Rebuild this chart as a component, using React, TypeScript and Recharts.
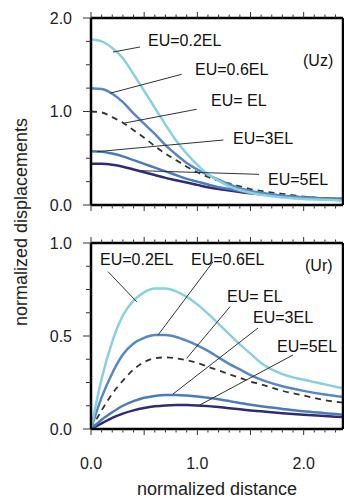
import { Line, LineChart, ReferenceDot, ReferenceLine, XAxis, YAxis } from "recharts";

const FONT = "'Liberation Sans', Arial, Helvetica, sans-serif";

// normalized distance (shared x)
const distance = [0, 0.1, 0.2, 0.3, 0.4, 0.5, 0.6, 0.7, 0.8, 0.9, 1.0, 1.1, 1.2, 1.3, 1.4, 1.5, 1.6, 1.8, 2.0, 2.2, 2.4];

// vertical displacement (Uz)
const uz02 = [1.77, 1.75, 1.68, 1.57, 1.4, 1.22, 1.04, 0.86, 0.69, 0.55, 0.43, 0.33, 0.26, 0.2, 0.16, 0.13, 0.11, 0.08, 0.065, 0.055, 0.045];
const uz06 = [1.25, 1.24, 1.19, 1.1, 0.98, 0.87, 0.76, 0.64, 0.54, 0.45, 0.38, 0.32, 0.27, 0.22, 0.18, 0.15, 0.13, 0.1, 0.08, 0.065, 0.055];
const uz1 = [1.0, 0.99, 0.94, 0.88, 0.8, 0.72, 0.63, 0.55, 0.48, 0.41, 0.35, 0.3, 0.26, 0.23, 0.2, 0.17, 0.15, 0.12, 0.09, 0.07, 0.06];
const uz3 = [0.575, 0.57, 0.55, 0.52, 0.48, 0.44, 0.4, 0.36, 0.32, 0.28, 0.25, 0.22, 0.19, 0.17, 0.15, 0.13, 0.12, 0.1, 0.08, 0.07, 0.06];
const uz5 = [0.44, 0.44, 0.43, 0.41, 0.38, 0.35, 0.32, 0.29, 0.265, 0.24, 0.215, 0.19, 0.17, 0.155, 0.14, 0.125, 0.115, 0.095, 0.08, 0.07, 0.065];

// radial displacement (Ur)
const ur02 = [0, 0.27, 0.47, 0.61, 0.69, 0.735, 0.755, 0.755, 0.74, 0.71, 0.67, 0.62, 0.565, 0.51, 0.455, 0.405, 0.355, 0.295, 0.265, 0.24, 0.215];
const ur06 = [0, 0.17, 0.3, 0.4, 0.46, 0.49, 0.505, 0.505, 0.495, 0.475, 0.45, 0.42, 0.385, 0.35, 0.32, 0.29, 0.265, 0.23, 0.205, 0.185, 0.17];
const ur1 = [0, 0.1, 0.19, 0.26, 0.32, 0.36, 0.38, 0.385, 0.38, 0.37, 0.355, 0.335, 0.315, 0.295, 0.275, 0.255, 0.24, 0.205, 0.18, 0.155, 0.14];
const ur3 = [0, 0.05, 0.09, 0.125, 0.15, 0.168, 0.178, 0.183, 0.183, 0.18, 0.175, 0.168, 0.16, 0.15, 0.14, 0.13, 0.122, 0.108, 0.095, 0.085, 0.075];
const ur5 = [0, 0.03, 0.06, 0.083, 0.1, 0.113, 0.122, 0.127, 0.129, 0.129, 0.127, 0.123, 0.118, 0.112, 0.106, 0.1, 0.095, 0.085, 0.077, 0.07, 0.063];

const xTicks = [0, 0.1, 0.2, 0.3, 0.4, 0.5, 0.6, 0.7, 0.8, 0.9, 1, 1.1, 1.2, 1.3, 1.4, 1.5, 1.6, 1.7, 1.8, 1.9, 2, 2.1, 2.2, 2.3];
const xLabels = [0, 1, 2];
const uzTicks = [0, 0.25, 0.5, 0.75, 1, 1.25, 1.5, 1.75, 2];
const uzLabels = [0, 1, 2];
const urTicks = [0, 0.125, 0.25, 0.375, 0.5, 0.625, 0.75, 0.875, 1];
const urLabels = [0, 0.5, 1];

const uzData = distance.map((x, i) => ({ x, a: uz02[i], b: uz06[i], c: uz1[i], d: uz3[i], e: uz5[i] }));
const urData = distance.map((x, i) => ({ x, a: ur02[i], b: ur06[i], c: ur1[i], d: ur3[i], e: ur5[i] }));

// label text positions and leader lines, in data units
const uzNotes = [
	{ text: "EU=0.2EL", x: 0.536, y: 1.7, from: [0.207, 1.636], to: [0.461, 1.69] },
	{ text: "EU=0.6EL", x: 0.978, y: 1.39, from: [0.179, 1.195], to: [0.853, 1.398] },
	{ text: "EU= EL", x: 1.129, y: 1.059, from: [0.304, 0.874], to: [0.994, 1.024] },
	{ text: "EU=3EL", x: 1.336, y: 0.652, from: [0.054, 0.57], to: [1.245, 0.695] },
	{ text: "EU=5EL", x: 1.665, y: 0.214, from: [0.461, 0.367], to: [1.58, 0.328] },
];
const urNotes = [
	{ text: "EU=0.2EL", x: 0.085, y: 0.882, from: [0.43, 0.684], to: [0.16, 0.846] },
	{ text: "EU=0.6EL", x: 0.941, y: 0.882, from: [0.63, 0.505], to: [1.148, 0.899] },
	{ text: "EU= EL", x: 1.279, y: 0.683, from: [0.9, 0.38], to: [1.308, 0.658] },
	{ text: "EU=3EL", x: 1.524, y: 0.57, from: [0.771, 0.188], to: [1.571, 0.543] },
	{ text: "EU=5EL", x: 1.75, y: 0.414, from: [1.007, 0.124], to: [1.9, 0.398] },
];

const near = (list: number[], v: number) => list.some((l) => Math.abs(l - v) < 1e-6);

function XTick(props: any) {
	const { x, y, payload, up, labels } = props;
	const v = payload.value;
	const major = Math.abs(v * 2 - Math.round(v * 2)) < 1e-6;
	const len = major ? 6 : 3.5;
	return (
		<g>
			<line x1={x} y1={y} x2={x} y2={up ? y - len : y + len} stroke="#333" strokeWidth={1} />
			{labels && near(labels, v) && (
				<text x={x} y={y + 40} textAnchor="middle" fontSize={16} fontFamily={FONT} fill="#222">
					{v.toFixed(1)}
				</text>
			)}
		</g>
	);
}

function YTick(props: any) {
	const { x, y, payload, labels } = props;
	const v = payload.value;
	const major = near(labels, v);
	return (
		<g>
			<line x1={x} y1={y} x2={x - (major ? 8 : 5)} y2={y} stroke="#333" strokeWidth={1} />
			{major && (
				<text x={x - 19} y={y} dy="0.36em" textAnchor="end" fontSize={16} fontFamily={FONT} fill="#222">
					{v.toFixed(1)}
				</text>
			)}
		</g>
	);
}

const frame = { stroke: "#000", strokeWidth: 2.5 };

function Panel(props: any) {
	const { data, height, bottom, yMax, yTicks, yLabels, notes, tag, tagX, tagY, showX } = props;
	return (
		<LineChart width={344} height={height} data={data} margin={{ top: 17, right: 0, bottom: bottom - 1, left: 90 }}>
			<XAxis
				dataKey="x"
				type="number"
				domain={[0, 2.37]}
				allowDataOverflow
				ticks={xTicks}
				interval={0}
				height={1}
				tickSize={0}
				tickMargin={0}
				axisLine={frame}
				tick={(p: any) => <XTick {...p} up={false} labels={showX ? xLabels : null} />}
				label={
					showX
						? {
								content: (p: any) => {
									const vb = p.viewBox;
									return (
										<text x={vb.x + vb.width / 2} y={vb.y + 66} textAnchor="middle" fontSize={18} fontFamily={FONT} fill="#222">
											normalized distance
										</text>
									);
								},
							}
						: undefined
				}
			/>
			<XAxis
				xAxisId="top"
				orientation="top"
				dataKey="x"
				type="number"
				domain={[0, 2.37]}
				allowDataOverflow
				ticks={xTicks}
				interval={0}
				height={1}
				tickSize={0}
				tickMargin={0}
				axisLine={frame}
				tick={(p: any) => <XTick {...p} up={true} labels={null} />}
			/>
			<YAxis
				type="number"
				domain={[0, yMax]}
				allowDataOverflow
				ticks={yTicks}
				interval={0}
				width={1}
				tickSize={0}
				tickMargin={0}
				axisLine={frame}
				tick={(p: any) => <YTick {...p} labels={yLabels} />}
			/>
			<YAxis yAxisId="right" orientation="right" type="number" domain={[0, yMax]} width={1} tick={false} tickLine={false} axisLine={frame} />
			<Line dataKey="c" type="monotone" stroke="#333" strokeWidth={1.8} strokeDasharray="6 5" dot={false} isAnimationActive={false} />
			<Line dataKey="e" type="monotone" stroke="#2f2b76" strokeWidth={2.5} dot={false} isAnimationActive={false} />
			<Line dataKey="d" type="monotone" stroke="#4a7bba" strokeWidth={2.5} dot={false} isAnimationActive={false} />
			<Line dataKey="b" type="monotone" stroke="#5688c3" strokeWidth={2.5} dot={false} isAnimationActive={false} />
			<Line dataKey="a" type="monotone" stroke="#88d0e2" strokeWidth={2.5} dot={false} isAnimationActive={false} />
			{notes.map((n: any) => (
				<ReferenceLine
					key={"l" + n.text}
					segment={[
						{ x: n.from[0], y: n.from[1] },
						{ x: n.to[0], y: n.to[1] },
					]}
					stroke="#333"
					strokeWidth={1}
				/>
			))}
			{notes.map((n: any) => (
				<ReferenceDot
					key={"t" + n.text}
					x={n.x}
					y={n.y}
					r={0}
					shape={(p: any) => (
						<text x={p.cx} y={p.cy} fontSize={16} fontFamily={FONT} fill="#111">
							{n.text}
						</text>
					)}
				/>
			))}
			<ReferenceDot
				x={tagX}
				y={tagY}
				r={0}
				shape={(p: any) => (
					<text x={p.cx} y={p.cy} fontSize={16} fontFamily={FONT} fill="#111">
						{tag}
					</text>
				)}
			/>
		</LineChart>
	);
}

export default function App() {
	return (
		<div style={{ position: "absolute", left: 0, top: 0, width: 344, height: 498, background: "#fff" }}>
			<div style={{ position: "absolute", left: 0, top: 0 }}>
				<Panel data={uzData} height={225} bottom={20} yMax={2} yTicks={uzTicks} yLabels={uzLabels} notes={uzNotes} tag="(Uz)" tagX={1.994} tagY={1.487} showX={false} />
			</div>
			<div style={{ position: "absolute", left: 0, top: 225 }}>
				<Panel data={urData} height={273} bottom={69} yMax={1} yTicks={urTicks} yLabels={urLabels} notes={urNotes} tag="(Ur)" tagX={2.013} tagY={0.849} showX={true} />
			</div>
			<svg width={40} height={498} style={{ position: "absolute", left: 0, top: 0 }}>
				<text x={27} y={222} transform="rotate(-90 27 222)" textAnchor="middle" fontSize={18} fontFamily={FONT} fill="#222">
					normalized displacements
				</text>
			</svg>
		</div>
	);
}
